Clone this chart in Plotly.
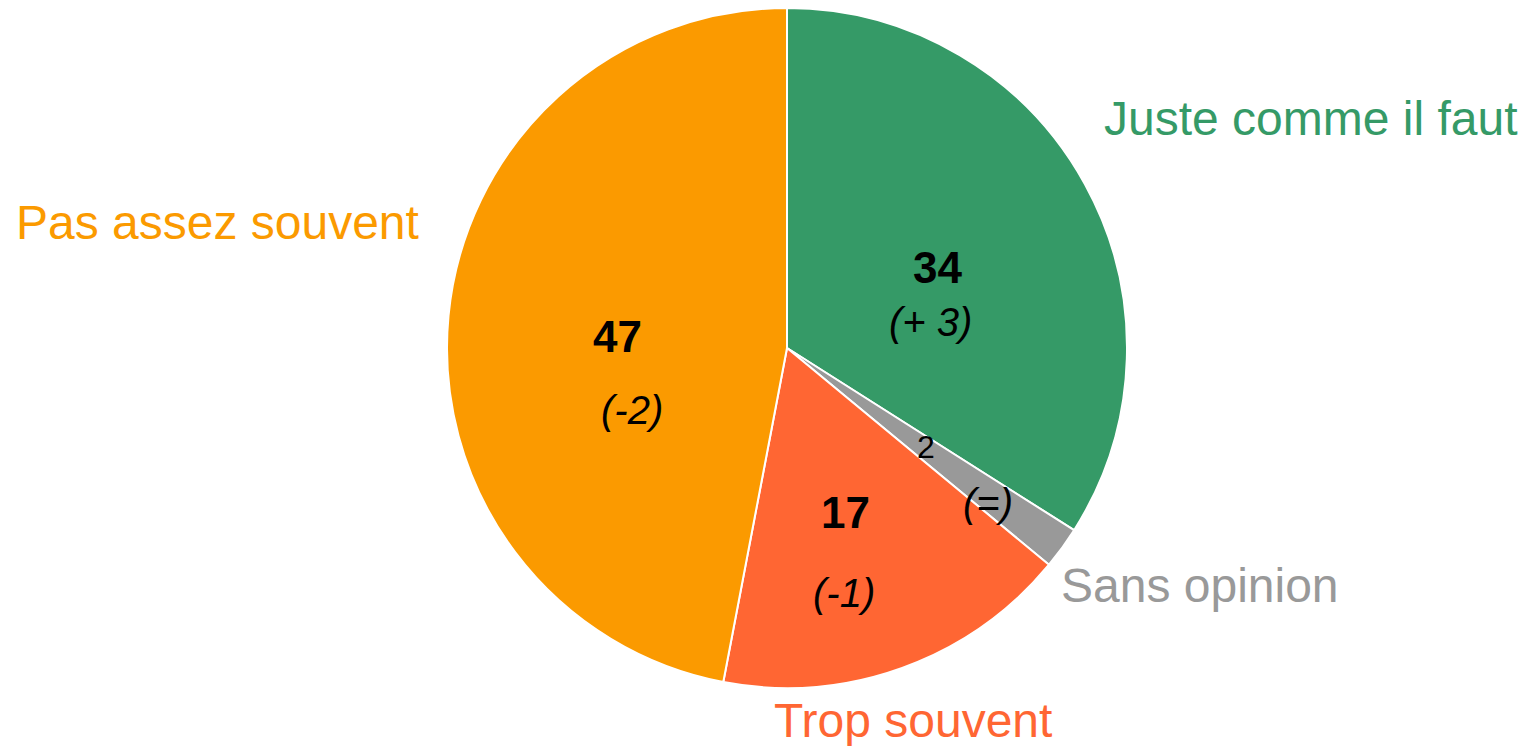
import plotly.graph_objects as go

categories = ["Juste comme il faut", "Sans opinion", "Trop souvent", "Pas assez souvent"]
values = [34, 2, 17, 47]
changes = ["(+ 3)", "(=)", "(-1)", "(-2)"]
colors = ["#359a67", "#999999", "#ff6633", "#fb9a00"]

OFF = 8  # page body margin
W, H = 1526 - OFF, 746 - OFF
cx, cy, r = 787 - OFF, 348 - OFF, 340

fig = go.Figure(go.Pie(
    labels=categories, values=values, sort=False, direction="clockwise", rotation=0,
    marker=dict(colors=colors, line=dict(color="white", width=2)),
    textinfo="none", hoverinfo="label+value", showlegend=False,
    domain=dict(x=[(cx - r) / W, (cx + r) / W], y=[1 - (cy + r) / H, 1 - (cy - r) / H]),
))

def px(x):
    return (x - OFF) / W

def py(y):
    return 1 - (y - OFF) / H

font = "Liberation Sans, Arial, sans-serif"
anns = []
# value labels (bold) and change labels (italic) inside slices
val_pos = [(937, 268, 44), (926, 447, 32), (846, 512, 44), (617, 336, 44)]
chg_pos = [(930, 322, 40), (988, 503, 40), (844, 593, 40), (632, 410, 40)]
for i in range(len(values)):
    x, y, s = val_pos[i]
    bold = i != 1
    txt = f"<b>{values[i]}</b>" if bold else str(values[i])
    anns.append(dict(x=px(x), y=py(y), xref="paper", yref="paper", text=txt, showarrow=False,
                     font=dict(family=font, size=s, color="black"), xanchor="center", yanchor="middle"))
    x, y, s = chg_pos[i]
    anns.append(dict(x=px(x), y=py(y), xref="paper", yref="paper", text=f"<i>{changes[i]}</i>", showarrow=False,
                     font=dict(family=font, size=s, color="black"), xanchor="center", yanchor="middle"))

# category labels outside
lab_pos = [(1102, 118, "left"), (1059, 585, "left"), (772, 720, "left"), (421, 222, "right")]
for i, c in enumerate(categories):
    x, y, a = lab_pos[i]
    anns.append(dict(x=px(x), y=py(y), xref="paper", yref="paper", text=c, showarrow=False,
                     font=dict(family=font, size=48, color=colors[i]), xanchor=a, yanchor="middle"))

fig.update_layout(width=W, height=H, margin=dict(l=0, r=0, t=0, b=0),
                  paper_bgcolor="white", plot_bgcolor="white", annotations=anns)
fig.write_html("out.html")
